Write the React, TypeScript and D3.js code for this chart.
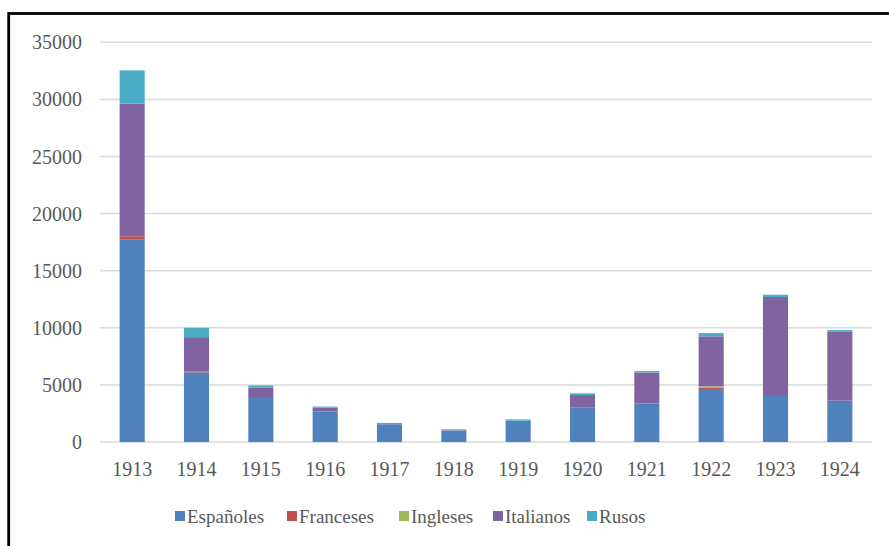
import React, { useEffect, useRef } from "react";
import * as d3 from "d3";

const years = ["1913", "1914", "1915", "1916", "1917", "1918", "1919", "1920", "1921", "1922", "1923", "1924"];
const espanoles = [17760, 6100, 3940, 2680, 1550, 1000, 1870, 3000, 3380, 4640, 4030, 3620];
const franceses = [260, 80, 0, 0, 0, 0, 0, 0, 0, 115, 0, 0];
const ingleses = [0, 0, 0, 0, 0, 0, 0, 0, 0, 115, 0, 0];
const italianos = [11600, 3000, 810, 320, 20, 30, 0, 1110, 2710, 4380, 8665, 6030];
const rusos = [2920, 820, 200, 100, 100, 80, 110, 150, 120, 290, 200, 150];
const seriesNames = ["Españoles", "Franceses", "Ingleses", "Italianos", "Rusos"];
const seriesColors = ["#4F81BD", "#C0504D", "#9BBB59", "#8064A2", "#4BACC6"];
const yTicks = [0, 5000, 10000, 15000, 20000, 25000, 30000, 35000];

const W = 889;
const H = 546;
const FONT = "Liberation Serif, DejaVu Serif, serif";
const LEGEND_X = [175, 287, 399, 493, 587];

export default function App() {
  const ref = useRef<SVGSVGElement>(null);

  useEffect(() => {
    const svg = d3.select(ref.current);
    svg.selectAll("*").remove();

    const seriesValues = [espanoles, franceses, ingleses, italianos, rusos];
    const rows = years.map((y, i) => {
      const r: any = { year: y };
      seriesNames.forEach((n, k) => (r[n] = seriesValues[k][i]));
      return r;
    });
    const stacked = d3.stack<any>().keys(seriesNames)(rows);

    const x = d3.scaleBand().domain(years).range([100, 872]).paddingInner(0.61).paddingOuter(0.305);
    const y = d3.scaleLinear().domain([0, 35000]).range([442, 42.3]);

    svg.append("rect").attr("width", W).attr("height", H).attr("fill", "#ffffff");

    svg.append("g").selectAll("line").data(yTicks).join("line")
      .attr("x1", 100).attr("x2", 872)
      .attr("y1", (d) => y(d)).attr("y2", (d) => y(d))
      .attr("stroke", "#d9d9d9").attr("stroke-width", 1.5);

    svg.append("g").selectAll("text").data(yTicks).join("text")
      .attr("x", 82).attr("y", (d) => y(d)).attr("dy", "0.35em")
      .attr("text-anchor", "end")
      .style("font-family", FONT).style("font-size", "20px").attr("fill", "#595959")
      .text((d) => String(d));

    svg.append("g").selectAll("g").data(stacked).join("g")
      .attr("fill", (_d, i) => seriesColors[i])
      .selectAll("rect").data((d) => d).join("rect")
      .attr("x", (d: any) => x(d.data.year)!)
      .attr("width", x.bandwidth())
      .attr("y", (d: any) => y(d[1]))
      .attr("height", (d: any) => Math.max(0, y(d[0]) - y(d[1])));

    svg.append("g").selectAll("text").data(years).join("text")
      .attr("x", (d) => x(d)! + x.bandwidth() / 2).attr("y", 476)
      .attr("text-anchor", "middle")
      .style("font-family", FONT).style("font-size", "20px").attr("fill", "#595959")
      .text((d) => d);

    const lg = svg.append("g");
    seriesNames.forEach((n, i) => {
      const cx = LEGEND_X[i];
      lg.append("rect").attr("x", cx).attr("y", 511).attr("width", 10).attr("height", 10).attr("fill", seriesColors[i]);
      lg.append("text").attr("x", cx + 12).attr("y", 523)
        .style("font-family", FONT).style("font-size", "19px").attr("fill", "#595959").text(n);
    });

    svg.append("rect").attr("x", 8.7).attr("y", 13.5).attr("width", 1000).attr("height", 700)
      .attr("fill", "none").attr("stroke", "#000").attr("stroke-width", 2.8);
  }, []);

  return (
    <svg ref={ref} width={W} height={H}
      style={{ position: "absolute", left: 0, top: 0, display: "block" }} />
  );
}
